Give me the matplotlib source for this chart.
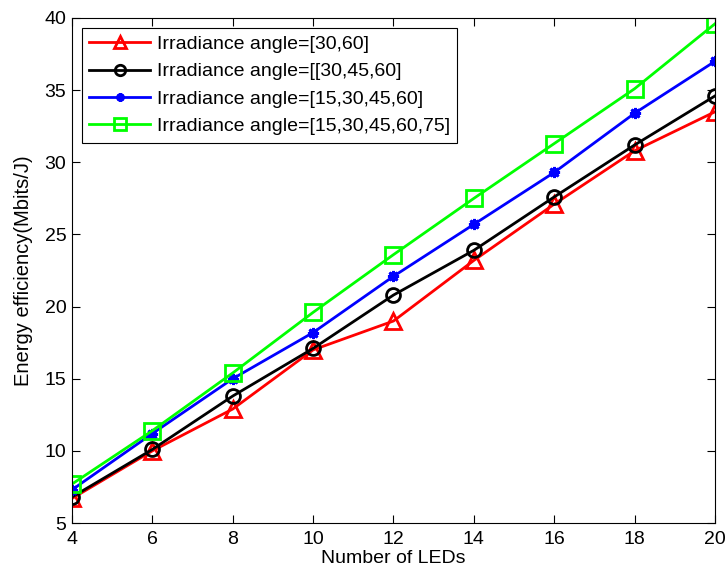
import matplotlib
matplotlib.use('Agg')
import matplotlib.pyplot as plt

# data
num_leds = [4, 6, 8, 10, 12, 14, 16, 18, 20]
ee_30_60 = [6.7, 10.0, 12.9, 17.0, 19.0, 23.2, 27.1, 30.8, 33.5]
ee_30_45_60 = [6.8, 10.1, 13.8, 17.1, 20.8, 23.9, 27.6, 31.2, 34.6]
ee_15_30_45_60 = [7.3, 11.2, 15.0, 18.2, 22.1, 25.7, 29.3, 33.4, 37.0]
ee_15_75 = [7.7, 11.4, 15.4, 19.6, 23.6, 27.5, 31.3, 35.1, 39.6]
labels = ['Irradiance angle=[30,60]', 'Irradiance angle=[[30,45,60]',
          'Irradiance angle=[15,30,45,60]', 'Irradiance angle=[15,30,45,60,75]']

plt.rcParams['font.family'] = ['Liberation Sans', 'DejaVu Sans']

fig = plt.figure(figsize=(7.27, 5.75), dpi=100)
ax = fig.add_axes([0.099, 0.0904, 0.8845, 0.8783])

ax.plot(num_leds, ee_30_60, color='#ff0000', lw=2, marker='^', ms=12,
        mfc='none', mew=2, label=labels[0])
ax.plot(num_leds, ee_30_45_60, color='black', lw=2, marker='o', ms=10,
        mfc='none', mew=2, label=labels[1])
ax.plot(num_leds, ee_15_30_45_60, color='#0000ff', lw=2, marker=(8, 2, 0), ms=8,
        mew=2, label=labels[2])
ax.plot(num_leds, ee_15_75, color='#00ff00', lw=2, marker='s', ms=11,
        mfc='none', mew=2, label=labels[3])

ax.set_xlim(4, 20)
ax.set_ylim(5, 40)
ax.set_xticks(range(4, 21, 2))
ax.set_yticks(range(5, 41, 5))
ax.tick_params(direction='in', top=True, right=True, labelsize=14, length=6)
ax.tick_params(axis='x', pad=6)
ax.tick_params(axis='y', pad=4)
ax.set_xlabel('Number of LEDs', fontsize=14, labelpad=1)
ax.set_ylabel('Energy efficiency(Mbits/J)', fontsize=14.5, labelpad=8)

leg = ax.legend(loc='upper left', fontsize=14, fancybox=False, framealpha=1,
                edgecolor='black', borderaxespad=0.5, handlelength=3.1,
                handletextpad=0.35, labelspacing=0.5, borderpad=0.4,
                markerscale=0.75)
leg.get_frame().set_linewidth(0.8)

fig.savefig('out.png', dpi=100)
